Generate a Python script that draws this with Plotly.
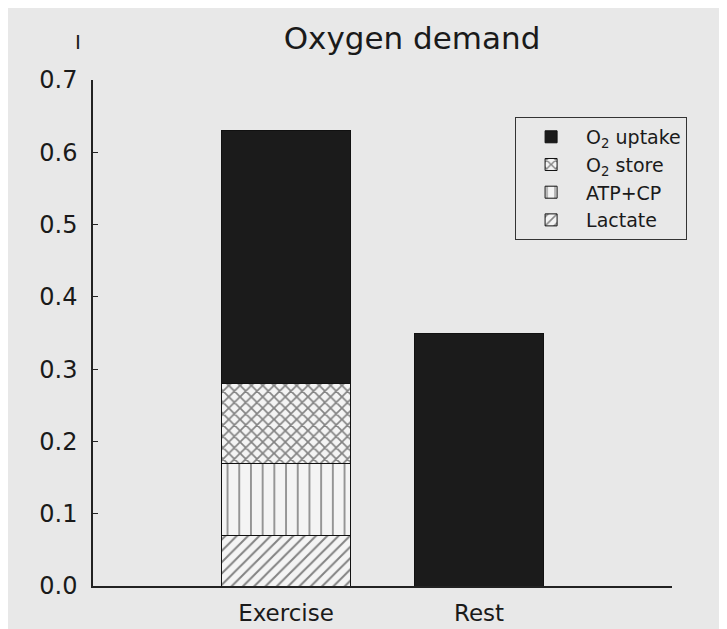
import plotly.graph_objects as go

categories = ["Exercise", "Rest"]
x_pos = [1, 2]
lactate = [0.07, None]
atp_cp = [0.10, None]
o2_store = [0.11, None]
o2_uptake = [0.35, 0.35]

series = [
    ("Lactate", lactate, "/", 8, 0.25),
    ("ATP+CP", atp_cp, "|", 11.7, 0.14),
    ("O<sub>2</sub> store", o2_store, "x", 8, 0.38),
]

BG = "#e8e8e8"
FONT = "DejaVu Sans"

fig = go.Figure()
for name, vals, shape, size, sol in series:
    fig.add_trace(go.Bar(
        x=x_pos, y=vals, name=name, width=0.67,
        marker=dict(color="#f4f4f4",
                    line=dict(color="#111111", width=1),
                    pattern=dict(shape=shape, fgcolor="#111111", bgcolor="#f4f4f4",
                                 size=size, solidity=sol)),
    ))
fig.add_trace(go.Bar(
    x=x_pos, y=o2_uptake, name="O<sub>2</sub> uptake", width=0.67,
    marker=dict(color="#1b1b1b", line=dict(color="#111111", width=1)),
))

fig.update_layout(
    width=727, height=629,
    barmode="stack",
    paper_bgcolor=BG, plot_bgcolor=BG,
    margin=dict(l=85, r=63, t=72, b=51),
    font=dict(family=FONT, color="#1a1a1a", size=24),
    title=dict(text="Oxygen demand", x=0.551, xref="paper", xanchor="center",
               y=1 - 30 / 629, yanchor="middle", font=dict(size=31, family=FONT)),
    showlegend=True,
    legend=dict(x=0.729, y=0.927, xanchor="left", yanchor="top",
                bgcolor=BG, bordercolor="#333333", borderwidth=1,
                traceorder="reversed", itemwidth=60,
                font=dict(size=19, family=FONT), tracegroupgap=0),
    xaxis=dict(range=[0, 3], tickvals=x_pos, ticktext=categories,
               showline=True, linecolor="#222222", linewidth=1.5,
               showgrid=False, zeroline=False, ticks="", ticklen=0,
               ticklabelstandoff=6, tickfont=dict(size=23)),
    yaxis=dict(range=[0, 0.7], dtick=0.1, tickformat=".1f",
               showline=True, linecolor="#222222", linewidth=1.5,
               showgrid=False, zeroline=False, ticks="inside", ticklen=5,
               ticklabelstandoff=9,
               tickcolor="#222222", tickfont=dict(size=24)),
    annotations=[dict(text="I", xref="paper", yref="paper", x=-0.026, y=1.075,
                      xanchor="center", yanchor="middle",
                      showarrow=False, font=dict(size=20, family=FONT))],
)

fig.write_html("out.html")
